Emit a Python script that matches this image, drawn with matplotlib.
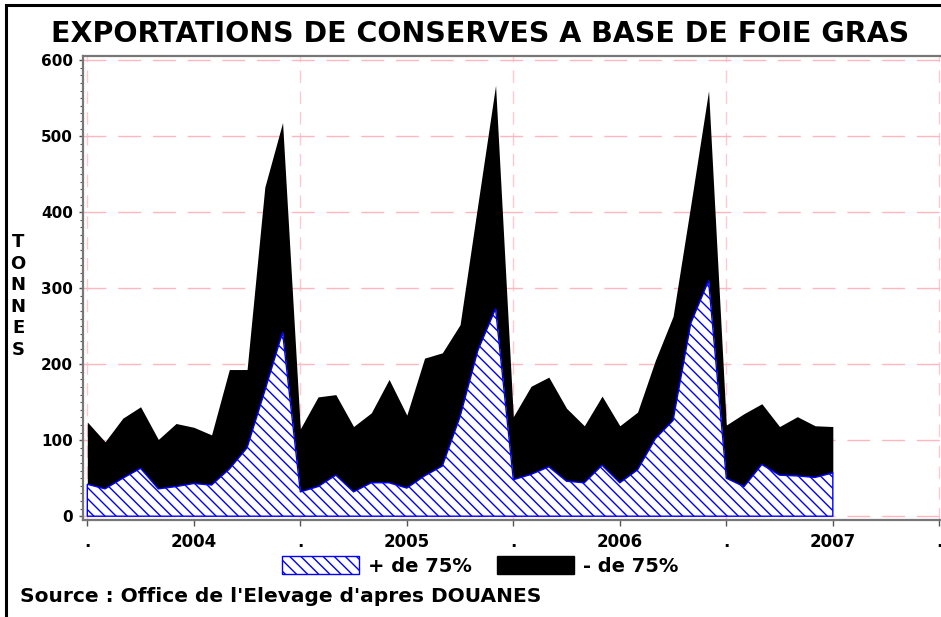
import matplotlib
matplotlib.use("Agg")
import matplotlib.pyplot as plt
from matplotlib.patches import Rectangle, Patch
from matplotlib.ticker import MultipleLocator

# monthly exports, Jan 2004 .. Jul 2007 (tonnes)
months = list(range(43))
plus_75 = [42, 36, 50, 63, 36, 39, 43, 41, 62, 90, 165, 242,
           32, 39, 54, 32, 44, 44, 37, 53, 66, 131, 218, 273,
           48, 55, 65, 46, 44, 67, 44, 61, 102, 126, 254, 310,
           50, 39, 68, 54, 53, 51, 57]
moins_75 = [82, 62, 79, 81, 65, 83, 74, 66, 131, 103, 268, 276,
            83, 118, 106, 86, 92, 136, 96, 155, 149, 121, 192, 294,
            83, 116, 118, 96, 75, 91, 75, 76, 103, 137, 156, 250,
            70, 96, 80, 64, 78, 68, 61]
tick_pos = [0, 6, 12, 18, 24, 30, 36, 42, 48]
tick_labels = [".", "2004", ".", "2005", ".", "2006", ".", "2007", "."]
year_bounds = [0, 12, 24, 36, 48]

plt.rcParams["font.family"] = ["DejaVu Sans"]
plt.rcParams["font.weight"] = "bold"
plt.rcParams["hatch.linewidth"] = 1.0

HATCH = "\\" * 3          # back-diagonal hatching

W, H = 941, 617
fig = plt.figure(figsize=(W / 100, H / 100), dpi=100)
fig.patch.set_facecolor("white")

# outer frame (only left and top edges fall inside the picture)
fig.patches.append(Rectangle((6 / W, -0.1), 1.2, 1.1 - 5 / H, transform=fig.transFigure,
                             fill=False, edgecolor="black", linewidth=2.2))

ax = fig.add_axes([82.7 / W, 97 / H, 862.3 / W, 464.3 / H])
top = [p + m for p, m in zip(plus_75, moins_75)]

ax.fill_between(months, plus_75, top, color="black", linewidth=0, zorder=3)
ax.fill_between(months, 0, plus_75, facecolor="white", edgecolor="blue",
                hatch=HATCH, linewidth=1.0, zorder=3)

ax.set_xlim(-0.26, 48.32)
ax.set_ylim(-5, 606)

# grid: pink dashes, horizontal on every 100, vertical on year bounds
ax.yaxis.set_major_locator(MultipleLocator(100))
ax.yaxis.set_minor_locator(MultipleLocator(10))
ax.grid(axis="y", color="#ffb6c1", linewidth=1.0, dashes=(16.5, 8.5), zorder=0)
for xb in year_bounds:
    ax.axvline(xb, color="#ffc8d2", linewidth=1.0, dashes=(9, 6), zorder=0)

ax.set_xticks(tick_pos)
ax.set_xticklabels(tick_labels)
ax.tick_params(axis="x", direction="out", length=4.3, width=1, color="#555555",
               labelsize=12, pad=5)
ax.tick_params(axis="y", which="major", direction="out", length=3.1, width=1,
               color="#555555", labelsize=11, pad=4)
ax.tick_params(axis="y", which="minor", direction="out", length=2, width=0.8,
               color="#555555")

for side in ("left", "bottom", "top"):
    ax.spines[side].set_color("#777777")
    ax.spines[side].set_linewidth(1.6)
ax.spines["right"].set_visible(False)

fig.text(480 / W, 1 - 34 / H, "EXPORTATIONS DE CONSERVES A BASE DE FOIE GRAS",
         ha="center", va="center", fontsize=20.5, fontweight="bold")
fig.text(18 / W, 1 - 296 / H, "T\nO\nN\nN\nE\nS", ha="center", va="center",
         fontsize=13, fontweight="bold", linespacing=1.25)
fig.text(20 / W, 1 - 597 / H, "Source : Office de l'Elevage d'apres DOUANES",
         ha="left", va="center", fontsize=14.5, fontweight="bold")

handles = [Patch(facecolor="white", edgecolor="blue", hatch=HATCH, linewidth=1.0),
           Patch(facecolor="black", edgecolor="black")]
fig.legend(handles, ["+ de 75%", "- de 75%"], loc="center", ncol=2,
           bbox_to_anchor=(480 / W, 1 - 566 / H), frameon=False, fontsize=14,
           handlelength=3.97, handleheight=0.98, handletextpad=0.46,
           columnspacing=1.3)

fig.savefig("out.png", dpi=100, facecolor="white")
plt.close(fig)
